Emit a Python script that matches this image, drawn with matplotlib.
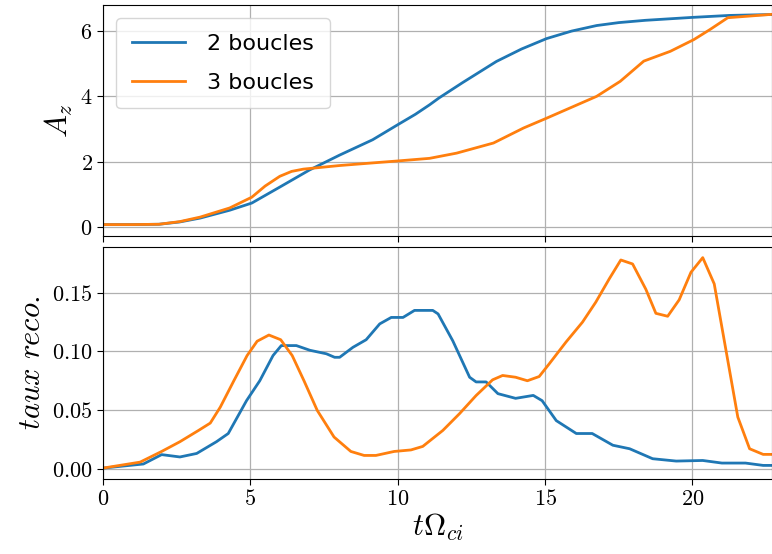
import matplotlib
matplotlib.use("Agg")
import matplotlib.pyplot as plt
from matplotlib.ticker import FormatStrFormatter, MultipleLocator

plt.rcParams['mathtext.fontset'] = 'cm'

# Top panel: A_z
t_az_2 = [0.0, 1.0, 1.9, 2.6, 3.3, 4.3, 5.05, 6.0, 7.0, 8.03, 9.15, 10.0, 10.6, 11.08, 11.4,
          12.2, 13.35, 14.2, 15.05, 15.9, 16.75, 17.5, 18.4, 20.0, 21.25, 22.8]
az_2 = [0.07, 0.07, 0.08, 0.15, 0.27, 0.51, 0.73, 1.22, 1.74, 2.2, 2.67, 3.13, 3.45, 3.74, 3.95,
        4.42, 5.07, 5.45, 5.77, 6.0, 6.17, 6.26, 6.33, 6.42, 6.48, 6.51]
t_az_3 = [0.0, 1.0, 1.9, 2.6, 3.3, 4.3, 5.05, 5.5, 6.0, 6.4, 6.8, 8.03, 9.15, 10.0, 11.08, 12.0,
          13.25, 14.27, 15.05, 16.75, 17.55, 18.35, 19.25, 20.05, 20.6, 21.2, 22.8]
az_3 = [0.07, 0.07, 0.08, 0.16, 0.3, 0.58, 0.91, 1.25, 1.55, 1.7, 1.77, 1.88, 1.96, 2.02, 2.1,
        2.26, 2.57, 3.03, 3.33, 4.0, 4.46, 5.08, 5.38, 5.74, 6.05, 6.41, 6.52]

# Bottom panel: taux reco.
t_r_2 = [0.0, 1.37, 1.99, 2.61, 3.18, 3.85, 4.25, 4.87, 5.32, 5.77, 6.05, 6.56, 7.02, 7.58, 7.86,
         8.03, 8.48, 8.93, 9.39, 9.78, 10.18, 10.57, 11.19, 11.37, 11.87, 12.44, 12.66, 13.0,
         13.4, 14.0, 14.6, 14.9, 15.38, 16.06, 16.6, 17.3, 17.87, 18.65, 19.45, 20.35, 21.0,
         21.8, 22.4, 22.8]
r_2 = [0.0005, 0.004, 0.012, 0.010, 0.013, 0.023, 0.030, 0.058, 0.075, 0.0965, 0.105, 0.105,
       0.101, 0.098, 0.095, 0.095, 0.1035, 0.110, 0.1235, 0.129, 0.129, 0.135, 0.135, 0.132,
       0.109, 0.078, 0.074, 0.074, 0.064, 0.060, 0.0625, 0.058, 0.041, 0.030, 0.030, 0.020,
       0.017, 0.0085, 0.0065, 0.007, 0.0048, 0.0048, 0.0028, 0.0028]
t_r_3 = [0.0, 1.26, 1.99, 2.61, 3.24, 3.64, 3.98, 4.44, 4.89, 5.23, 5.63, 6.03, 6.42, 6.82, 7.27,
         7.84, 8.41, 8.86, 9.26, 9.88, 10.45, 10.85, 11.1, 11.53, 12.1, 12.66, 13.22, 13.56,
         14.0, 14.4, 14.8, 15.14, 15.71, 16.27, 16.72, 17.18, 17.57, 17.97, 18.42, 18.76,
         19.16, 19.55, 19.95, 20.35, 20.74, 21.14, 21.54, 21.94, 22.4, 22.8]
r_3 = [0.0005, 0.0056, 0.0147, 0.023, 0.0326, 0.0389, 0.0525, 0.075, 0.0965, 0.1087, 0.114,
       0.110, 0.0965, 0.075, 0.0497, 0.027, 0.0147, 0.0113, 0.0113, 0.0147, 0.016, 0.019,
       0.024, 0.0326, 0.047, 0.0624, 0.0758, 0.0795, 0.078, 0.075, 0.0786, 0.0894, 0.108,
       0.125, 0.142, 0.162, 0.178, 0.1746, 0.153, 0.1325, 0.130, 0.144, 0.1675, 0.180,
       0.1576, 0.1008, 0.044, 0.017, 0.0122, 0.0122]

labels = ['2 boucles', '3 boucles']

fig = plt.figure(figsize=(7.72, 5.54), dpi=100)
ax1 = fig.add_axes([0.1334, 0.574, 0.8666, 0.417])
ax2 = fig.add_axes([0.1334, 0.136, 0.8666, 0.418], sharex=ax1)

ax1.plot(t_az_2, az_2, color='#1f77b4', lw=2, label=labels[0])
ax1.plot(t_az_3, az_3, color='#ff7f0e', lw=2, label=labels[1])
ax2.plot(t_r_2, r_2, color='#1f77b4', lw=2)
ax2.plot(t_r_3, r_3, color='#ff7f0e', lw=2)

ax1.set_xlim(0, 22.7)
ax1.set_ylim(-0.28, 6.8)
ax2.set_ylim(-0.0085, 0.189)

ax1.yaxis.set_major_locator(MultipleLocator(2))
ax1.yaxis.set_major_formatter(FormatStrFormatter('$%d$'))
ax2.yaxis.set_major_locator(MultipleLocator(0.05))
ax2.yaxis.set_major_formatter(FormatStrFormatter('$%.2f$'))
ax2.xaxis.set_major_locator(MultipleLocator(5))
ax2.xaxis.set_major_formatter(FormatStrFormatter('$%d$'))
plt.setp(ax1.get_xticklabels(), visible=False)

for ax in (ax1, ax2):
    ax.grid(True, color='#b0b0b0', lw=0.9)
    ax.tick_params(labelsize=16, length=4)

ax1.set_ylabel('$A_z$', fontsize=22)
ax2.set_ylabel(r'$taux\ reco.$', fontsize=22)
ax2.set_xlabel(r'$t\Omega_{ci}$', fontsize=22, labelpad=2)

ax1.legend(loc='upper left', fontsize=16, borderpad=0.7, labelspacing=0.85,
           handlelength=2.4, handletextpad=1.0, borderaxespad=0.6)

fig.savefig('out.png', dpi=100)
